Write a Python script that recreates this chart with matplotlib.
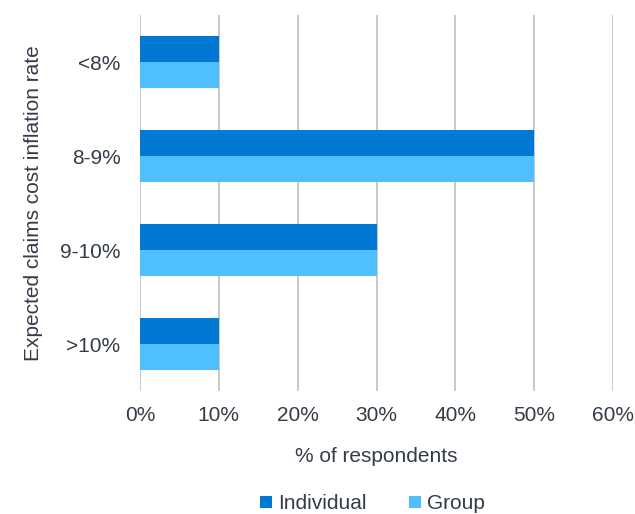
import matplotlib.pyplot as plt
import numpy as np

# Antworten je Kategorie (Anteil der Befragten in %)
kategorien = ["<8%", "8-9%", "9-10%", ">10%"]
individual = [10, 50, 30, 10]
group = [10, 50, 30, 10]
x_ticks = [0, 10, 20, 30, 40, 50, 60]

plt.rcParams['font.family'] = ['Liberation Sans', 'DejaVu Sans']
textfarbe = '#333c47'

fig = plt.figure(figsize=(6.35, 5.14), dpi=100)
ax = fig.add_axes([0.2205, 0.2393, 0.745, 0.7315])

y = np.arange(len(kategorien))
h = 0.28
ax.barh(y - h / 2, individual, height=h, color='#0078d4', label='Individual', zorder=3)
ax.barh(y + h / 2, group, height=h, color='#4fbfff', label='Group', zorder=3)

ax.set_ylim(len(kategorien) - 0.5, -0.5)
ax.set_xlim(0, 60)
ax.set_xticks(x_ticks)
ax.set_xticklabels([f"{t}%" for t in x_ticks])
ax.set_yticks(y)
ax.set_yticklabels(kategorien)

# Gitter und Achsen
ax.grid(axis='x', color='#bfbfbf', linewidth=1.2, zorder=0)
for s in ax.spines.values():
    s.set_visible(False)
ax.tick_params(axis='both', length=0, labelsize=15, colors=textfarbe)
ax.tick_params(axis='y', pad=14)
ax.tick_params(axis='x', pad=11)

ax.set_xlabel('% of respondents', fontsize=15, color=textfarbe, labelpad=16)
ax.set_ylabel('Expected claims cost inflation rate', fontsize=15, color=textfarbe, labelpad=12)

fig.legend(loc='center', bbox_to_anchor=(0.587, 0.02), ncol=2, frameon=False,
           fontsize=15, labelcolor=textfarbe, handlelength=0.55, handleheight=0.55,
           handletextpad=0.3, columnspacing=2.05)

plt.savefig('out.png', dpi=100)
